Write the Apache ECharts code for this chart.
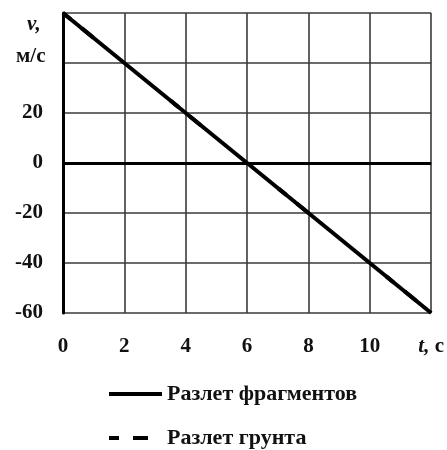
<!DOCTYPE html>
<html><head><meta charset="utf-8">
<script src="https://cdn.jsdelivr.net/npm/echarts@6/dist/echarts.min.js"></script>
<style>html,body{margin:0;padding:0;background:#fff}#c{width:447px;height:450px}</style>
</head><body><div id="c"></div>
<script>
const tValues = [0, 12];
const fragmentsV = [60, -60];
const groundV = [60, -60];
const xTicks = [0, 2, 4, 6, 8, 10, 12];
const yTicks = [-60, -40, -20, 0, 20, 40, 60];
const seriesNames = ['Разлет фрагментов', 'Разлет грунта'];

const FONT = 'Liberation Serif';
const chart = echarts.init(document.getElementById('c'), null, {renderer: 'canvas'});
const toPairs = (xs, ys) => xs.map((x, i) => [x, ys[i]]);

const legendText = {fontFamily: FONT, fontSize: 22, fontWeight: 'bold', color: '#111'};
chart.setOption({
  animation: false,
  backgroundColor: '#fff',
  grid: {left: 63, right: 15, top: 13, bottom: 137},
  xAxis: {
    type: 'value', min: xTicks[0], max: xTicks[xTicks.length - 1], interval: 2,
    axisLine: {show: false, onZero: false},
    axisTick: {show: false},
    splitLine: {show: true, lineStyle: {color: '#3a3a3a', width: 1.6}},
    axisLabel: {
      margin: 23, fontFamily: FONT, fontSize: 21, fontWeight: 'bold', color: '#111',
      formatter: v => v === 12 ? '{t|t,} с' : String(v),
      rich: {t: {fontFamily: FONT, fontStyle: 'italic', fontWeight: 'bold', fontSize: 21, color: '#111'}}
    }
  },
  yAxis: {
    type: 'value', min: yTicks[0], max: yTicks[yTicks.length - 1], interval: 20,
    axisLine: {show: true, lineStyle: {color: '#000', width: 3}},
    axisTick: {show: false},
    splitLine: {show: true, lineStyle: {color: '#3a3a3a', width: 1.6}},
    axisLabel: {
      margin: 20, fontFamily: FONT, fontSize: 21, fontWeight: 'bold', color: '#111',
      formatter: v => (v === 60 || v === 40) ? '' : String(v)
    }
  },
  legend: [
    {data: [seriesNames[0]], left: 107, bottom: 45, padding: 0, itemWidth: 53, itemHeight: 14,
     itemStyle: {opacity: 0}, lineStyle: {width: 4}, textStyle: legendText},
    {data: [seriesNames[1]], left: 107, bottom: 1, padding: 0, itemWidth: 53, itemHeight: 14,
     itemStyle: {opacity: 0}, lineStyle: {width: 4}, textStyle: legendText}
  ],
  series: [
    {name: seriesNames[1], type: 'line', data: toPairs(tValues, groundV), symbol: 'none', z: 2,
     color: '#000', lineStyle: {color: '#000', width: 4, type: [10, 14, 15, 100]}},
    {name: seriesNames[0], type: 'line', data: toPairs(tValues, fragmentsV), symbol: 'none', z: 3,
     color: '#000', lineStyle: {color: '#000', width: 4},
     markLine: {silent: true, symbol: 'none', label: {show: false},
       lineStyle: {color: '#000', width: 3, type: 'solid'}, data: [{yAxis: 0}]}}
  ]
});

const p60 = chart.convertToPixel({yAxisIndex: 0}, 60);
const p40 = chart.convertToPixel({yAxisIndex: 0}, 40);
chart.setOption({
  graphic: [
    {type: 'text', left: 27, top: p60 + 1, style: {text: 'v,', font: 'italic bold 21px "Liberation Serif"', fill: '#111'}},
    {type: 'text', left: 16, top: p40 - 17, style: {text: 'м/с', font: 'bold 21px "Liberation Serif"', fill: '#111'}}
  ]
});
</script></body></html>
